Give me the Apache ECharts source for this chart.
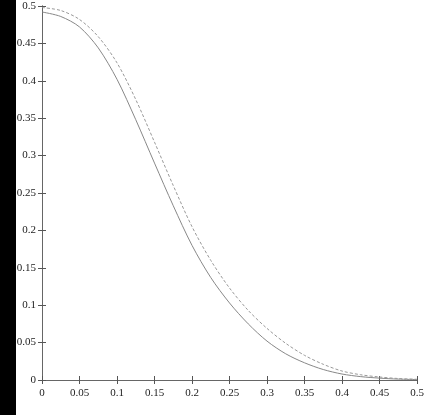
<!DOCTYPE html>
<html>
<head>
<meta charset="utf-8">
<script src="https://cdn.jsdelivr.net/npm/echarts@6/dist/echarts.min.js"></script>
<style>
  html, body { margin: 0; padding: 0; background: #fff; }
  #chart { width: 433px; height: 415px; }
</style>
</head>
<body>
<div id="chart"></div>
<script>
// x positions shared by both curves
const xs = [0, 0.025, 0.05, 0.075, 0.1, 0.125, 0.15, 0.175, 0.2, 0.225, 0.25,
  0.275, 0.3, 0.325, 0.35, 0.375, 0.4, 0.425, 0.45, 0.475, 0.5]
// solid curve
const solidY = [0.492, 0.486, 0.472, 0.444, 0.402, 0.348, 0.29, 0.233, 0.18, 0.137, 0.103,
  0.075, 0.052, 0.035, 0.023, 0.014, 0.008, 0.0045, 0.0025, 0.0012, 0.0006]
// dashed curve
const dashedY = [0.498, 0.494, 0.482, 0.459, 0.424, 0.375, 0.318, 0.26, 0.205, 0.16, 0.123,
  0.093, 0.069, 0.049, 0.033, 0.021, 0.012, 0.007, 0.004, 0.002, 0.001]

const pairs = ys => xs.map((x, i) => [x, ys[i]])

const chart = echarts.init(document.getElementById('chart'))

const font = { fontFamily: 'Liberation Serif', fontSize: 11, color: '#222' }
const axisLine = { show: true, lineStyle: { color: '#666', width: 1 } }
const axisTick = { show: true, inside: true, length: 4, lineStyle: { color: '#555' } }

chart.setOption({
  animation: false,
  backgroundColor: '#fff',
  graphic: [{
    type: 'rect',
    left: 0,
    top: 0,
    shape: { width: 16, height: 415 },
    style: { fill: '#000' }
  }],
  grid: { left: 42, right: 16, top: 6, bottom: 35 },
  xAxis: [{
    type: 'value',
    min: 0,
    max: 0.5,
    interval: 0.05,
    axisLine,
    axisTick,
    splitLine: { show: false },
    axisLabel: { ...font, margin: 8 }
  }, {
    type: 'value',
    position: 'top',
    min: 0,
    max: 0.5,
    interval: 0.05,
    axisLine,
    axisTick,
    splitLine: { show: false },
    axisLabel: { show: false }
  }],
  yAxis: [{
    type: 'value',
    min: 0,
    max: 0.5,
    interval: 0.05,
    axisLine,
    axisTick,
    splitLine: { show: false },
    axisLabel: { ...font, margin: 6 }
  }, {
    type: 'value',
    position: 'right',
    min: 0,
    max: 0.5,
    interval: 0.05,
    axisLine,
    axisTick,
    splitLine: { show: false },
    axisLabel: { show: false }
  }],
  series: [{
    type: 'line',
    data: pairs(solidY),
    smooth: 0.3,
    showSymbol: false,
    lineStyle: { color: '#888', width: 1 }
  }, {
    type: 'line',
    data: pairs(dashedY),
    smooth: 0.3,
    showSymbol: false,
    lineStyle: { color: '#999', width: 1, type: [3, 2] }
  }]
})
</script>
</body>
</html>
